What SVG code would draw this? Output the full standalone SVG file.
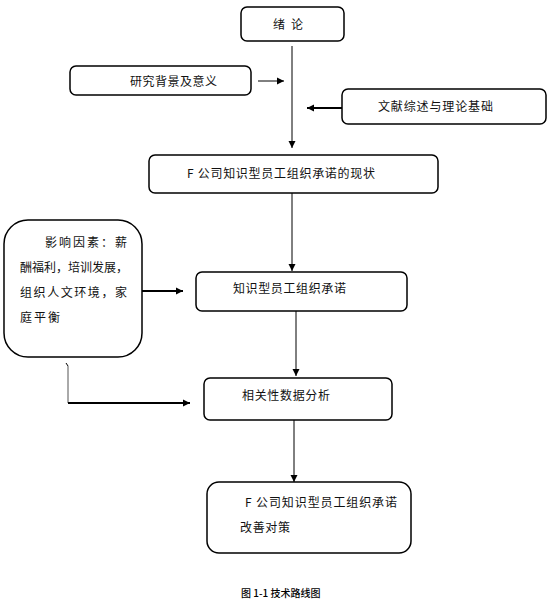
<svg xmlns="http://www.w3.org/2000/svg" width="559" height="600" viewBox="0 0 559 600">
<defs>
<marker id="ah" markerWidth="8" markerHeight="8" refX="7" refY="4" orient="auto" markerUnits="userSpaceOnUse">
<path d="M0,0.5 L7,4 L0,7.5 Z" fill="#000"/>
</marker>
</defs>
<style>
.box{fill:#fff;stroke:#000;stroke-width:1.5}
.t{font-family:"Noto Sans CJK SC","Noto Sans",sans-serif;font-size:12px;fill:#111}
.ln{fill:none;stroke:#000;stroke-width:1}
.lnb{fill:none;stroke:#000;stroke-width:2}
.cap{font-family:"Noto Sans CJK SC","Liberation Sans",sans-serif;font-size:10px;fill:#000;font-weight:500}
</style>
<rect width="559" height="600" fill="#fff"/>
<g id="connectors">
<path class="ln" d="M292,46 V148" marker-end="url(#ah)"/>
<path class="ln" d="M258,81 H284" marker-end="url(#ah)"/>
<path class="lnb" d="M342,108 H307" marker-end="url(#ah)"/>
<path class="ln" d="M292,193 V271" marker-end="url(#ah)"/>
<path class="lnb" d="M142,291 H183" marker-end="url(#ah)"/>
<path class="ln" d="M296,311 V376" marker-end="url(#ah)"/>
<path class="ln" d="M66,363 L68,366" />
<path d="M68,366 V403" fill="none" stroke="#555" stroke-width="1"/>
<path class="lnb" d="M68,403 H190" marker-end="url(#ah)"/>
<path class="ln" d="M294,420 V482" marker-end="url(#ah)"/>
</g>
<g id="n1">
<rect class="box" x="241" y="7" width="103" height="34" rx="6"/>
<text class="t" x="273" y="28.5" textLength="30" lengthAdjust="spacing">绪论</text>
</g>
<g id="n2">
<rect class="box" x="70" y="66" width="181" height="29" rx="6"/>
<text class="t" x="130" y="85.5" textLength="87" lengthAdjust="spacing">研究背景及意义</text>
</g>
<g id="n3">
<rect class="box" x="342" y="89" width="204" height="35" rx="6"/>
<text class="t" x="378" y="110.5" textLength="115" lengthAdjust="spacing">文献综述与理论基础</text>
</g>
<g id="n4">
<rect class="box" x="149" y="155" width="289" height="38" rx="6"/>
<text class="t" x="187" y="178" textLength="188" lengthAdjust="spacing">F 公司知识型员工组织承诺的现状</text>
</g>
<g id="n5">
<rect class="box" x="4" y="220" width="138" height="137" rx="24"/>
<text class="t" x="45" y="246.5" textLength="82" lengthAdjust="spacing">影响因素：薪</text>
<text class="t" x="20" y="271.5" textLength="108" lengthAdjust="spacing">酬福利，培训发展，</text>
<text class="t" x="20" y="296.5" textLength="107" lengthAdjust="spacing">组织人文环境，家</text>
<text class="t" x="20" y="321.5" textLength="40" lengthAdjust="spacing">庭平衡</text>
</g>
<g id="n6">
<rect class="box" x="196" y="272" width="211" height="39" rx="6"/>
<text class="t" x="233" y="292.5" textLength="113" lengthAdjust="spacing">知识型员工组织承诺</text>
</g>
<g id="n7">
<rect class="box" x="204" y="378" width="188" height="42" rx="6"/>
<text class="t" x="242" y="399.5" textLength="88" lengthAdjust="spacing">相关性数据分析</text>
</g>
<g id="n8">
<rect class="box" x="207" y="482" width="204" height="71" rx="12"/>
<text class="t" x="245" y="506.5" textLength="152" lengthAdjust="spacing">F 公司知识型员工组织承诺</text>
<text class="t" x="240" y="531.5" textLength="50" lengthAdjust="spacing">改善对策</text>
</g>
<text class="cap" x="241" y="597">图 1-1 技术路线图</text>
</svg>
